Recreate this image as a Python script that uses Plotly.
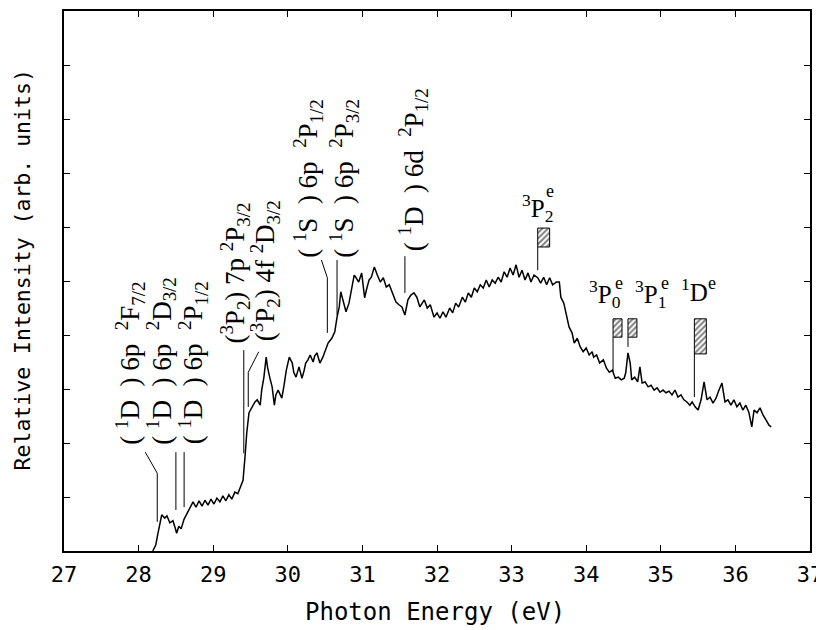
import plotly.graph_objects as go

# ---------------- spectrum (photon energy in eV, relative intensity arb. units) ----------------
energy = [28.19, 28.23, 28.26, 28.29, 28.31, 28.35, 28.38, 28.42, 28.46, 28.49,
          28.51, 28.54, 28.57, 28.61, 28.65, 28.69, 28.73, 28.77, 28.81, 28.85,
          28.89, 28.93, 28.97, 29.01, 29.05, 29.09, 29.13, 29.17, 29.21, 29.25,
          29.29, 29.33, 29.37, 29.40, 29.43, 29.45, 29.48, 29.52, 29.56, 29.59,
          29.63, 29.65, 29.68, 29.71, 29.73, 29.76, 29.79, 29.82, 29.84, 29.87,
          29.90, 29.92, 29.95, 29.98, 30.02, 30.06, 30.08, 30.11, 30.15, 30.19,
          30.22, 30.24, 30.27, 30.30, 30.34, 30.36, 30.39, 30.43, 30.47, 30.51,
          30.54, 30.59, 30.63, 30.66, 30.69, 30.71, 30.74, 30.78, 30.82, 30.86,
          30.89, 30.91, 30.95, 30.99, 31.03, 31.06, 31.09, 31.12, 31.16, 31.20,
          31.24, 31.28, 31.32, 31.36, 31.40, 31.45, 31.49, 31.53, 31.57, 31.61,
          31.65, 31.69, 31.73, 31.77, 31.83, 31.87, 31.91, 31.96, 32.00, 32.04,
          32.08, 32.12, 32.17, 32.21, 32.25, 32.29, 32.34, 32.38, 32.42, 32.46,
          32.50, 32.54, 32.58, 32.62, 32.66, 32.70, 32.74, 32.78, 32.82, 32.86,
          32.90, 32.94, 32.98, 33.02, 33.06, 33.10, 33.14, 33.18, 33.22, 33.26,
          33.30, 33.35, 33.39, 33.43, 33.47, 33.51, 33.55, 33.60, 33.64, 33.66,
          33.70, 33.73, 33.77, 33.81, 33.84, 33.88, 33.92, 33.96, 34.00, 34.04,
          34.08, 34.10, 34.14, 34.18, 34.23, 34.27, 34.31, 34.35, 34.39, 34.43,
          34.47, 34.51, 34.53, 34.56, 34.59, 34.61, 34.65, 34.69, 34.72, 34.75,
          34.79, 34.83, 34.87, 34.91, 34.95, 34.99, 35.03, 35.07, 35.11, 35.15,
          35.19, 35.23, 35.27, 35.31, 35.35, 35.39, 35.42, 35.46, 35.50, 35.54,
          35.58, 35.62, 35.66, 35.70, 35.74, 35.78, 35.82, 35.86, 35.90, 35.94,
          35.98, 36.02, 36.06, 36.10, 36.14, 36.18, 36.22, 36.25, 36.29, 36.33,
          36.37, 36.41, 36.45, 36.48]
intensity = [0.0, 1.1, 3.3, 5.4, 6.7, 6.1, 6.5, 5.2, 5.6, 4.3,
             3.3, 4.6, 4.1, 5.9, 6.9, 8.0, 9.1, 8.1, 9.3, 8.3,
             9.4, 8.5, 9.6, 8.7, 9.8, 9.1, 10.2, 9.3, 10.4, 9.6,
             10.9, 10.6, 12.0, 13.1, 18.1, 21.9, 25.6, 26.7, 27.6, 28.0,
             27.0, 29.8, 32.2, 35.9, 33.9, 32.0, 30.4, 27.0, 28.9, 29.8,
             28.7, 28.3, 30.7, 33.5, 35.9, 34.8, 33.1, 32.2, 34.1, 32.0,
             33.5, 34.8, 35.4, 36.3, 35.0, 36.1, 36.7, 34.8, 35.9, 37.2,
             38.5, 39.4, 40.6, 43.3, 45.2, 48.0, 46.5, 44.3, 45.9, 49.3,
             51.1, 50.7, 49.8, 51.5, 46.9, 48.7, 50.2, 50.7, 52.6, 51.1,
             49.8, 50.6, 48.9, 49.3, 48.0, 46.1, 45.6, 45.2, 43.7, 46.5,
             47.4, 47.8, 47.0, 45.2, 46.5, 45.0, 45.6, 43.3, 44.1, 43.1,
             44.3, 43.3, 45.0, 44.1, 45.9, 45.2, 47.0, 46.1, 47.8, 47.0,
             48.7, 48.0, 49.3, 48.7, 50.2, 48.9, 50.2, 49.6, 50.7, 49.8,
             51.7, 50.7, 52.4, 51.1, 53.0, 50.7, 52.0, 50.2, 51.5, 49.8,
             51.1, 50.6, 49.6, 50.7, 49.3, 50.6, 49.3, 49.8, 49.8, 47.0,
             45.9, 43.7, 41.5, 40.4, 38.5, 39.4, 37.8, 36.9, 37.6, 36.3,
             36.9, 35.9, 36.3, 34.8, 35.4, 33.9, 33.1, 33.5, 32.0, 32.2,
             31.7, 32.0, 33.0, 36.7, 34.8, 31.7, 32.2, 31.3, 34.1, 31.1,
             31.3, 30.4, 30.7, 29.8, 30.2, 29.4, 29.8, 29.3, 29.6, 28.9,
             29.8, 28.5, 28.9, 28.0, 27.6, 27.0, 27.6, 26.7, 26.1, 28.0,
             31.3, 28.0, 28.5, 27.4, 28.3, 29.8, 31.1, 27.6, 28.0, 27.0,
             28.0, 26.7, 27.4, 26.1, 27.0, 25.7, 23.0, 26.1, 25.6, 26.5,
             25.2, 24.3, 23.3, 23.0]

# ---------------- assigned lines (rotated labels) ----------------
NB = "\u00a0"
line_labels = [
    f"({NB}<sup>1</sup>D{NB}{NB}){NB}6p{NB}{NB}<sup>2</sup>F<sub>7/2</sub>",
    f"({NB}<sup>1</sup>D{NB}{NB}){NB}6p{NB}{NB}<sup>2</sup>D<sub>3/2</sub>",
    f"({NB}<sup>1</sup>D{NB}{NB}){NB}6p{NB}{NB}<sup>2</sup>P<sub>1/2</sub>",
    f"(<sup>3</sup>P<sub>2</sub>){NB}7p{NB}<sup>2</sup>P<sub>3/2</sub>",
    f"(<sup>3</sup>P<sub>2</sub>){NB}4f{NB}<sup>2</sup>D<sub>3/2</sub>",
    f"({NB}<sup>1</sup>S{NB}{NB}){NB}6p{NB}{NB}<sup>2</sup>P<sub>1/2</sub>",
    f"({NB}<sup>1</sup>S{NB}{NB}){NB}6p{NB}{NB}<sup>2</sup>P<sub>3/2</sub>",
    f"({NB}<sup>1</sup>D{NB}{NB}){NB}6d{NB}{NB}<sup>2</sup>P<sub>1/2</sub>",
]
line_energy = [28.25, 28.50, 28.61, 29.41, 29.47, 30.53, 30.66, 31.57]
line_low = [5.4, 7.6, 8.1, 18.1, 26.7, 40.4, 43.7, 47.8]
line_high = [14.4, 18.3, 18.3, 37.2, 33.1, 50.6, 53.9, 54.6]
elbow_energy = [28.09, None, None, None, 29.61, 30.45, None, None]
elbow_level = [18.3, None, None, None, 36.9, 53.9, None, None]
label_energy = [27.89, 28.30, 28.73, 29.29, 29.69, 30.27, 30.75, 31.69]
label_level = [19.3, 19.3, 19.3, 38.1, 38.5, 54.0, 54.0, 55.2]

# ---------------- calculated resonances (hatched bars) ----------------
res_labels = ["<sup>3</sup>P<sub>2</sub>", "<sup>3</sup>P<sub>0</sub>",
              "<sup>3</sup>P<sub>1</sub>", "<sup>1</sup>D"]
res_parity = ["e", "e", "e", "e"]
res_e_low = [33.35, 34.36, 34.56, 35.45]
res_e_high = [33.51, 34.48, 34.68, 35.61]
res_box_top = [59.8, 43.0, 43.0, 43.0]
res_box_bottom = [56.3, 39.6, 39.6, 36.5]
res_stem_low = [52.0, 33.1, 37.8, 28.5]
res_label_left = [33.11, 34.01, 34.63, 35.25]
res_label_mid = [63.6, 47.6, 47.6, 48.4]
res_parity_energy = [33.51, 34.44, 35.05, 35.68]
res_parity_level = [66.6, 49.6, 49.6, 49.6]

x_ticks = list(range(27, 38))
x_tick_text = [str(t) for t in x_ticks]
y_ticks = list(range(10, 100, 10))

SERIF = "Liberation Serif, Times New Roman, serif"
MONO = "DejaVu Sans Mono, monospace"

fig = go.Figure()

fig.add_trace(go.Scatter(x=energy, y=intensity, mode="lines",
                         line=dict(color="black", width=1.5), hoverinfo="skip"))

# leader lines + rotated assignment labels
for i in range(len(line_energy)):
    xs = [line_energy[i], line_energy[i]]
    ys = [line_low[i], line_high[i]]
    if elbow_energy[i] is not None:
        xs.append(elbow_energy[i])
        ys.append(elbow_level[i])
    fig.add_trace(go.Scatter(x=xs, y=ys, mode="lines",
                             line=dict(color="black", width=1), hoverinfo="skip"))
    fig.add_annotation(x=label_energy[i], y=label_level[i], text=line_labels[i],
                       textangle=-90, showarrow=False, xanchor="center", yanchor="bottom",
                       font=dict(family=SERIF, size=27, color="black"))

# hatched resonance boxes
fig.add_trace(go.Bar(
    x=[(a + b) / 2 for a, b in zip(res_e_low, res_e_high)],
    width=[b - a for a, b in zip(res_e_low, res_e_high)],
    base=res_box_bottom,
    y=[t - b for t, b in zip(res_box_top, res_box_bottom)],
    marker=dict(color="white", line=dict(color="black", width=1),
                pattern=dict(shape="/", fgcolor="black", bgcolor="white", size=4, solidity=0.5)),
    hoverinfo="skip"))
for i in range(len(res_e_low)):
    fig.add_trace(go.Scatter(x=[res_e_low[i], res_e_low[i]], y=[res_stem_low[i], res_box_bottom[i]],
                             mode="lines", line=dict(color="black", width=1), hoverinfo="skip"))
    fig.add_annotation(x=res_label_left[i], y=res_label_mid[i], text=res_labels[i],
                       showarrow=False, xanchor="left", yanchor="middle",
                       font=dict(family=SERIF, size=25, color="black"))
    fig.add_annotation(x=res_parity_energy[i], y=res_parity_level[i], text=res_parity[i],
                       showarrow=False, xanchor="center", yanchor="middle",
                       font=dict(family=SERIF, size=18, color="black"))

# axis titles
fig.add_annotation(xref="paper", yref="paper", x=0.497, y=-0.113, text="Photon Energy (eV)",
                   showarrow=False, xanchor="center", yanchor="middle",
                   font=dict(family=MONO, size=24, color="black"))
fig.add_annotation(xref="paper", yref="paper", x=-0.056, y=0.52,
                   text="Relative Intensity (arb. units)", textangle=-90,
                   showarrow=False, xanchor="center", yanchor="middle",
                   font=dict(family=MONO, size=21.5, color="black"))

# page body has an 8 px margin, so the figure is sized/offset to compensate
fig.update_layout(
    width=816, height=622,
    margin=dict(l=56, r=14, t=3, b=79, autoexpand=False),
    paper_bgcolor="white", plot_bgcolor="white",
    showlegend=False,
    barmode="overlay",
    xaxis=dict(range=[27, 37], tickvals=x_ticks, ticktext=x_tick_text, automargin=False,
               ticks="inside", ticklen=6, tickwidth=1.2, tickcolor="black",
               showline=True, linecolor="black", linewidth=2, mirror="ticks",
               showgrid=False, zeroline=False, ticklabelstandoff=3,
               tickfont=dict(family=MONO, size=22, color="black")),
    yaxis=dict(range=[0, 100], tickvals=y_ticks, showticklabels=False, automargin=False,
               ticks="inside", ticklen=6, tickwidth=1.2, tickcolor="black",
               showline=True, linecolor="black", linewidth=2, mirror="ticks",
               showgrid=False, zeroline=False),
)

fig.write_html("out.html")
